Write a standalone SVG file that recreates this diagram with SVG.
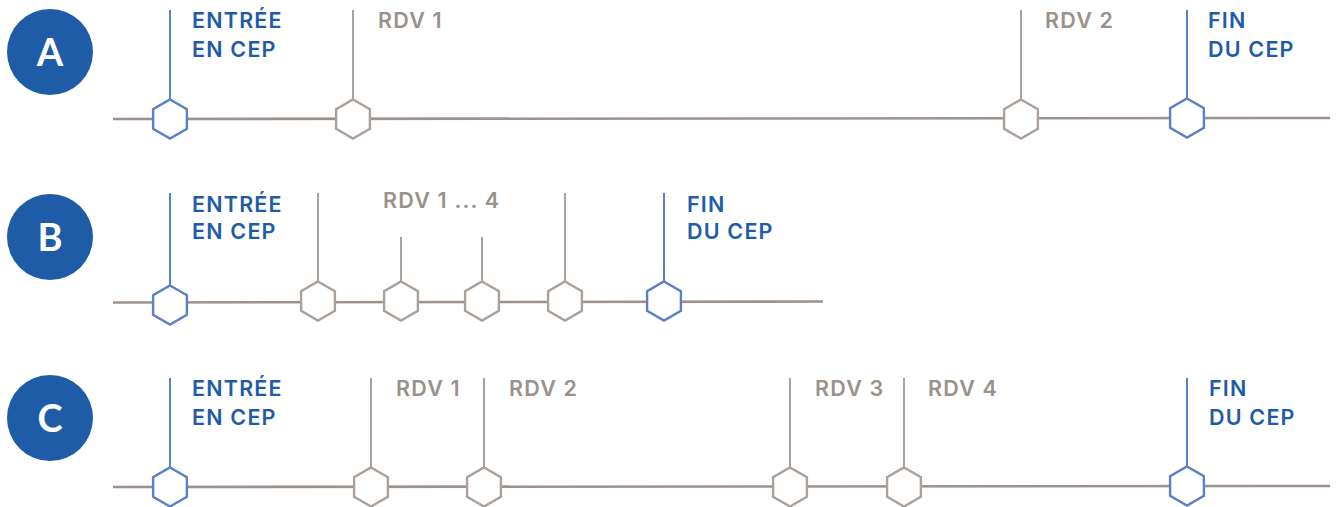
<svg xmlns="http://www.w3.org/2000/svg" xmlns:xlink="http://www.w3.org/1999/xlink" width="1336" height="507" viewBox="0 0 1336 507">
<style>
.bg{fill:#ffffff}
.badge{fill:#1f5ca8}
.badge-t{fill:#ffffff;font-family:"Lato","Liberation Sans",sans-serif;font-weight:700;font-size:38px;text-anchor:middle}
.lbl{font-family:"Inter","Lato","Liberation Sans",sans-serif;font-weight:600;font-size:21.5px;letter-spacing:1.2px}
.blue-t{fill:#1f5ca8}
.gray-t{fill:#9b918b}
.axis{stroke:#9d928c;stroke-width:2.6;fill:none}
.stem-b{stroke:#5b80c6;stroke-width:2;fill:none}
.stem-g{stroke:#aaa19b;stroke-width:2;fill:none}
.hex-b{fill:#ffffff;stroke:#5b80c6;stroke-width:2.4}
.hex-g{fill:#ffffff;stroke:#aaa19b;stroke-width:2.4}
</style>
<defs>
<polygon id="hex" points="0,-19.5 16.9,-9.75 16.9,9.75 0,19.5 -16.9,9.75 -16.9,-9.75"/>
</defs>
<rect class="bg" x="0" y="0" width="1336" height="507"/>

<g id="connectors">
<line class="axis" x1="113" y1="119" x2="1330" y2="118"/>
<line class="axis" x1="113" y1="302.5" x2="823" y2="301.5"/>
<line class="axis" x1="113" y1="487" x2="1330" y2="486"/>
<line class="stem-b" x1="170" y1="10" x2="170" y2="100"/>
<line class="stem-g" x1="353" y1="10" x2="353" y2="100"/>
<line class="stem-g" x1="1021" y1="10" x2="1021" y2="100"/>
<line class="stem-b" x1="1187" y1="10" x2="1187" y2="100"/>
<line class="stem-b" x1="170" y1="193" x2="170" y2="286"/>
<line class="stem-g" x1="318" y1="193" x2="318" y2="282"/>
<line class="stem-g" x1="401" y1="237" x2="401" y2="282"/>
<line class="stem-g" x1="482" y1="237" x2="482" y2="282"/>
<line class="stem-g" x1="565" y1="193" x2="565" y2="282"/>
<line class="stem-b" x1="664" y1="193" x2="664" y2="282"/>
<line class="stem-b" x1="170" y1="378" x2="170" y2="468"/>
<line class="stem-g" x1="371" y1="378" x2="371" y2="468"/>
<line class="stem-g" x1="484" y1="378" x2="484" y2="468"/>
<line class="stem-g" x1="790" y1="378" x2="790" y2="468"/>
<line class="stem-g" x1="904" y1="378" x2="904" y2="468"/>
<line class="stem-b" x1="1187" y1="378" x2="1187" y2="468"/>
</g>

<g id="badge-a"><circle class="badge" cx="50" cy="52" r="43"/><text class="badge-t" x="50" y="66">A</text></g>
<g id="badge-b"><circle class="badge" cx="50" cy="237" r="43"/><text class="badge-t" x="50" y="251">B</text></g>
<g id="badge-c"><circle class="badge" cx="50" cy="418" r="43"/><text class="badge-t" x="50" y="432">C</text></g>

<g id="a-entree"><use xlink:href="#hex" class="hex-b" x="170" y="119"/><text class="lbl blue-t" x="192" y="28">ENTRÉE</text><text class="lbl blue-t" x="192" y="57">EN CEP</text></g>
<g id="a-rdv1"><use xlink:href="#hex" class="hex-g" x="353" y="119"/><text class="lbl gray-t" x="378" y="28">RDV 1</text></g>
<g id="a-rdv2"><use xlink:href="#hex" class="hex-g" x="1021" y="119"/><text class="lbl gray-t" x="1045" y="28">RDV 2</text></g>
<g id="a-fin"><use xlink:href="#hex" class="hex-b" x="1187" y="118"/><text class="lbl blue-t" x="1208" y="28">FIN</text><text class="lbl blue-t" x="1208" y="57">DU CEP</text></g>

<g id="b-entree"><use xlink:href="#hex" class="hex-b" x="170" y="305"/><text class="lbl blue-t" x="192" y="212">ENTRÉE</text><text class="lbl blue-t" x="192" y="239">EN CEP</text></g>
<g id="b-rdv1"><use xlink:href="#hex" class="hex-g" x="318" y="301"/></g>
<g id="b-rdv2"><use xlink:href="#hex" class="hex-g" x="401" y="301"/></g>
<g id="b-rdv3"><use xlink:href="#hex" class="hex-g" x="482" y="301"/></g>
<g id="b-rdv4"><use xlink:href="#hex" class="hex-g" x="565" y="301"/></g>
<g id="b-label"><text class="lbl gray-t" x="383" y="208">RDV 1 ... 4</text></g>
<g id="b-fin"><use xlink:href="#hex" class="hex-b" x="664" y="301"/><text class="lbl blue-t" x="687" y="212">FIN</text><text class="lbl blue-t" x="687" y="239">DU CEP</text></g>

<g id="c-entree"><use xlink:href="#hex" class="hex-b" x="170" y="487"/><text class="lbl blue-t" x="192" y="396">ENTRÉE</text><text class="lbl blue-t" x="192" y="425">EN CEP</text></g>
<g id="c-rdv1"><use xlink:href="#hex" class="hex-g" x="371" y="487"/><text class="lbl gray-t" x="396" y="396">RDV 1</text></g>
<g id="c-rdv2"><use xlink:href="#hex" class="hex-g" x="484" y="487"/><text class="lbl gray-t" x="509" y="396">RDV 2</text></g>
<g id="c-rdv3"><use xlink:href="#hex" class="hex-g" x="790" y="487"/><text class="lbl gray-t" x="815" y="396">RDV 3</text></g>
<g id="c-rdv4"><use xlink:href="#hex" class="hex-g" x="904" y="487"/><text class="lbl gray-t" x="928" y="396">RDV 4</text></g>
<g id="c-fin"><use xlink:href="#hex" class="hex-b" x="1187" y="486"/><text class="lbl blue-t" x="1209" y="396">FIN</text><text class="lbl blue-t" x="1209" y="425">DU CEP</text></g>
</svg>
